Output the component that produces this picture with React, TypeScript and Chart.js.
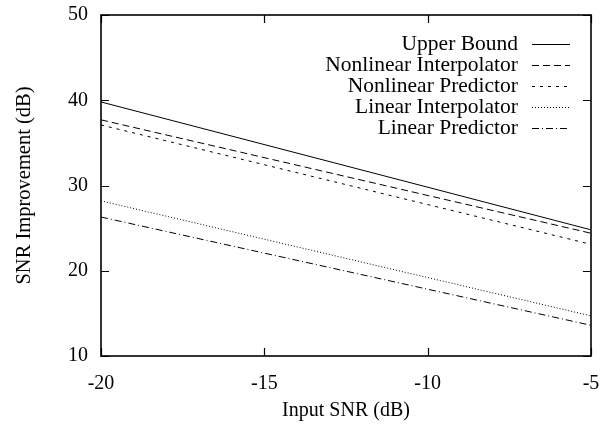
import React, { useEffect, useRef } from "react";
import { Chart, registerables } from "chart.js";

Chart.register(...registerables);

const inputSnr = [-20, -5];
const upperBound = [39.8, 24.8];
const nonlinearInterpolator = [37.7, 24.4];
const nonlinearPredictor = [37.1, 23.1];
const linearInterpolator = [28.2, 14.7];
const linearPredictor = [26.3, 13.6];

const seriesNames = [
  "Upper Bound",
  "Nonlinear Interpolator",
  "Nonlinear Predictor",
  "Linear Interpolator",
  "Linear Predictor",
];
const seriesValues = [upperBound, nonlinearInterpolator, nonlinearPredictor, linearInterpolator, linearPredictor];
const seriesDashes: number[][] = [[], [7, 4], [3, 5], [1, 2], [7, 3, 1, 3]];

const FONT = "'Liberation Serif', 'DejaVu Serif', serif";

const zeroPad = (s: any) => {
  s.paddingTop = 0;
  s.paddingBottom = 0;
  s.paddingLeft = 0;
  s.paddingRight = 0;
};

const framePlugin = {
  id: "gnuFrame",
  afterDraw(chart: any) {
    const { ctx, chartArea } = chart;
    const { left, right, top, bottom } = chartArea;
    const xs = chart.scales.x;
    const ys = chart.scales.y;
    ctx.save();
    ctx.strokeStyle = "#000";
    ctx.lineWidth = 1.6;
    ctx.setLineDash([]);
    ctx.strokeRect(left, top, right - left, bottom - top);
    ctx.lineWidth = 1.2;
    const tl = 8;
    ctx.beginPath();
    xs.ticks.forEach((t: any) => {
      const px = Math.round(xs.getPixelForValue(t.value)) + 0.5;
      ctx.moveTo(px, bottom);
      ctx.lineTo(px, bottom - tl);
      ctx.moveTo(px, top);
      ctx.lineTo(px, top + tl);
    });
    ys.ticks.forEach((t: any) => {
      const py = Math.round(ys.getPixelForValue(t.value)) + 0.5;
      ctx.moveTo(left, py);
      ctx.lineTo(left + tl, py);
      ctx.moveTo(right, py);
      ctx.lineTo(right - tl, py);
    });
    ctx.stroke();

    // legend
    ctx.font = `21.5px ${FONT}`;
    ctx.fillStyle = "#000";
    ctx.textAlign = "right";
    ctx.textBaseline = "middle";
    ctx.lineWidth = 1;
    const textRight = right - 73;
    chart.data.datasets.forEach((ds: any, i: number) => {
      const y = top + 29 + i * 21.1;
      ctx.fillText(ds.label, textRight, y);
      ctx.beginPath();
      ctx.setLineDash(ds.borderDash || []);
      const yy = Math.round(y) + 0.5;
      ctx.moveTo(right - 59, yy);
      ctx.lineTo(right - 21, yy);
      ctx.stroke();
    });
    ctx.restore();
  },
};

export default function App() {
  const ref = useRef<HTMLCanvasElement>(null);
  useEffect(() => {
    document.body.style.margin = "0";
    const c = new Chart(ref.current!, {
      type: "line",
      data: {
        datasets: seriesNames.map((name, i) => ({
          label: name,
          data: inputSnr.map((x, j) => ({ x, y: seriesValues[i][j] })),
          borderColor: "#000",
          borderWidth: 1,
          borderDash: seriesDashes[i],
          pointRadius: 0,
          fill: false,
          tension: 0,
        })),
      },
      options: {
        responsive: false,
        animation: false,
        layout: { padding: { top: 15, right: 11, left: 0, bottom: 0 } },
        plugins: { legend: { display: false }, tooltip: { enabled: false } },
        scales: {
          x: {
            type: "linear",
            min: -20,
            max: -5,
            ticks: { stepSize: 5, color: "#000", font: { family: FONT, size: 20 }, padding: 16, maxRotation: 0 },
            grid: { display: true, drawOnChartArea: false, drawTicks: false, color: "rgba(0,0,0,0)" },
            border: { display: false },
            title: { display: true, text: "Input SNR (dB)", color: "#000", font: { family: FONT, size: 20 }, padding: { top: 0, bottom: 15 } },
            afterFit: (s: any) => { s.height = 82; zeroPad(s); },
          },
          y: {
            type: "linear",
            min: 10,
            max: 50,
            ticks: { stepSize: 10, color: "#000", font: { family: FONT, size: 20 }, padding: 13 },
            grid: { display: true, drawOnChartArea: false, drawTicks: false, color: "rgba(0,0,0,0)" },
            border: { display: false },
            title: { display: true, text: "SNR Improvement (dB)", color: "#000", font: { family: FONT, size: 20.5 }, padding: { top: 12, bottom: 0 } },
            afterFit: (s: any) => { s.width = 101; zeroPad(s); },
          },
        },
      },
      plugins: [framePlugin],
    } as any);
    return () => c.destroy();
  }, []);
  return (
    <div style={{ width: 602, height: 438, background: "#fff" }}>
      <canvas ref={ref} width={602} height={438} />
    </div>
  );
}
